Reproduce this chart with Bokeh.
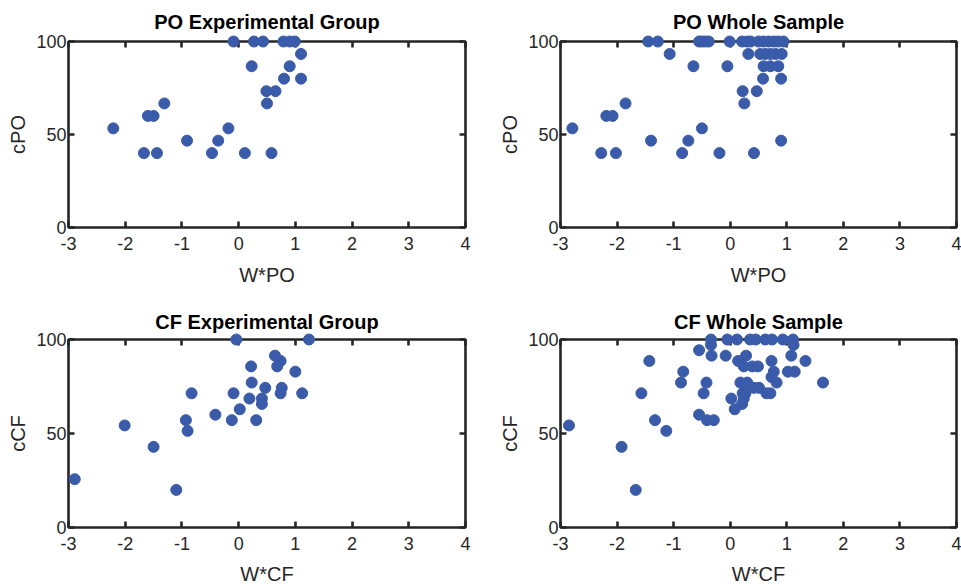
from bokeh.plotting import figure
from bokeh.layouts import column, row
from bokeh.models import LinearAxis, FixedTicker, ColumnDataSource
from bokeh.embed import file_html
from bokeh.resources import INLINE

# ---------------- data ----------------
x_ticks = [-3, -2, -1, 0, 1, 2, 3, 4]
y_ticks = [0, 50, 100]

po_exp_x = [-0.09, 0.27, 0.43, 0.79, 0.90, 0.99, 1.10, 0.23, 0.90, 0.80, 1.10, 0.49, 0.65,
            0.50, -1.31, -1.60, -1.50, -2.21, -0.18, -0.91, -0.36, -1.67, -1.44, -0.47, 0.11, 0.58]
po_exp_y = [100, 100, 100, 100, 100, 100, 93.3, 86.7, 86.7, 80, 80, 73.3, 73.3,
            66.7, 66.7, 60, 60, 53.3, 53.3, 46.7, 46.7, 40, 40, 40, 40, 40]

po_all_x = [-1.45, -1.28, -0.55, -0.50, -0.44, -0.38, -0.01, 0.21, 0.30, 0.36, 0.50, 0.59, 0.68, 0.77, 0.85, 0.94,
            -1.07, 0.32, 0.53, 0.62, 0.71, 0.80, 0.91,
            -0.65, -0.05, 0.59, 0.71, 0.85,
            0.58, 0.90,
            0.22, 0.47,
            0.25, -1.85,
            -2.19, -2.08,
            -2.79, -0.50,
            -1.40, -0.74, 0.90,
            -2.28, -2.02, -0.85, -0.19, 0.42]
po_all_y = [100] * 16 + [93.3] * 7 + [86.7] * 5 + [80] * 2 + [73.3] * 2 + [66.7] * 2 + [60] * 2 + \
           [53.3] * 2 + [46.7] * 3 + [40] * 5

cf_exp_x = [-0.04, 1.24, 0.64, 0.74, 0.68, 0.22, 1.00, 0.23, 0.47, 0.76, 0.74, -0.83, -0.09, 1.12,
            0.19, 0.41, 0.41, 0.02, -0.41, -0.93, -0.12, 0.31, -2.01, -0.90, -1.50, -2.89, -1.10]
cf_exp_y = [100, 100, 91.4, 88.6, 85.7, 85.7, 82.9, 77.1, 74.3, 74.3, 71.4, 71.4, 71.4, 71.4,
            68.6, 68.6, 65.7, 62.9, 60.0, 57.1, 57.1, 57.1, 54.3, 51.4, 42.9, 25.7, 20.0]

cf_all_x = [-0.34, -0.05, 0.12, 0.35, 0.45, 0.62, 0.74, 0.93, 1.11,
            -0.34, 1.12,
            -0.55,
            -0.33, -0.08, 0.28, 1.08,
            -1.43, 0.14, 0.73, 1.33,
            0.24, 0.39, 0.49,
            -0.83, 0.77, 1.02, 1.14,
            0.73,
            -0.87, -0.42, 0.18, 0.30, 0.82, 1.64,
            0.30, 0.42, 0.51,
            -1.57, -0.47, 0.22, 0.27, 0.64, 0.71,
            0.02, 0.24,
            0.21,
            0.08,
            -0.55,
            -1.33, -0.41, -0.29,
            -2.85,
            -1.13,
            -1.92,
            -1.67]
cf_all_y = [100] * 9 + [97.1] * 2 + [94.3] + [91.4] * 4 + [88.6] * 4 + [85.7] * 3 + [82.9] * 4 + [80.0] + \
           [77.1] * 6 + [74.3] * 3 + [71.4] * 6 + [68.6] * 2 + [65.7] + [62.9] + [60.0] + [57.1] * 3 + \
           [54.3] + [51.4] + [42.9] + [20.0]

# ---------------- style ----------------
FONT = "Liberation Sans"
AX = "#262626"
DOT = "#3A5BA9"


def panel(title, xlab, ylab, xs, ys, width, height, bl, br, bt, bb, title_standoff, lab_standoff):
    p = figure(width=width, height=height, output_backend="svg", toolbar_location=None,
               x_range=(-3, 4), y_range=(0, 100),
               min_border_left=bl, min_border_right=br, min_border_top=bt, min_border_bottom=bb)
    p.title.text = title
    p.title.align = "center"
    p.title.text_font = FONT
    p.title.text_font_size = "20px"
    p.title.text_font_style = "bold"
    p.title.text_color = "black"
    p.title.standoff = title_standoff
    p.grid.visible = False
    p.outline_line_color = AX
    p.outline_line_width = 2.6
    p.background_fill_color = "white"
    p.border_fill_color = "white"

    # unlabeled inward ticks on the top and right edges (minor ticks carry no labels)
    top = LinearAxis(ticker=FixedTicker(ticks=[], minor_ticks=x_ticks))
    right = LinearAxis(ticker=FixedTicker(ticks=[], minor_ticks=y_ticks))
    p.add_layout(top, "above")
    p.add_layout(right, "right")
    for ax in (top, right):
        ax.axis_line_color = None
        ax.major_tick_line_color = None
        ax.minor_tick_in = 6
        ax.minor_tick_out = 0
        ax.minor_tick_line_color = AX
        ax.minor_tick_line_width = 2.6
        ax.major_label_standoff = 0
        ax.axis_label_standoff = 0

    bottom = p.below[0]
    left = p.left[0]
    bottom.ticker = FixedTicker(ticks=x_ticks)
    left.ticker = FixedTicker(ticks=y_ticks)
    bottom.major_label_overrides = {t: str(t) for t in x_ticks}
    left.major_label_overrides = {t: str(t) for t in y_ticks}
    for ax in (bottom, left):
        ax.axis_line_color = None
        ax.major_tick_in = 6
        ax.major_tick_out = 0
        ax.minor_tick_line_color = None
        ax.major_tick_line_color = AX
        ax.major_tick_line_width = 2.6
        ax.major_label_text_font = FONT
        ax.major_label_text_font_size = "18px"
        ax.major_label_text_color = AX
        ax.axis_label_text_font = FONT
        ax.axis_label_text_font_size = "20px"
        ax.axis_label_text_font_style = "normal"
        ax.axis_label_text_color = AX

    bottom.axis_label = xlab
    bottom.major_label_standoff = 9
    bottom.axis_label_standoff = lab_standoff
    left.axis_label = ylab
    left.major_label_standoff = 2
    left.axis_label_standoff = 4

    src = ColumnDataSource(data=dict(x=xs, y=ys))
    r = p.scatter("x", "y", source=src, size=11, fill_color=DOT, line_color=DOT)
    r.level = "overlay"
    return p


p1 = panel("PO Experimental Group", "W*PO", "cPO", po_exp_x, po_exp_y, 490, 300, 68, 25, 40, 73, 17, 11)
p2 = panel("PO Whole Sample", "W*PO", "cPO", po_all_x, po_all_y, 471, 300, 70, 5, 40, 73, 17, 11)
p3 = panel("CF Experimental Group", "W*CF", "cCF", cf_exp_x, cf_exp_y, 490, 288, 68, 25, 39, 61, 14, 10)
p4 = panel("CF Whole Sample", "W*CF", "cCF", cf_all_x, cf_all_y, 471, 288, 70, 5, 39, 61, 14, 10)

layout = column(row(p1, p2), row(p3, p4))

open("out.html", "w").write(file_html(layout, INLINE))
